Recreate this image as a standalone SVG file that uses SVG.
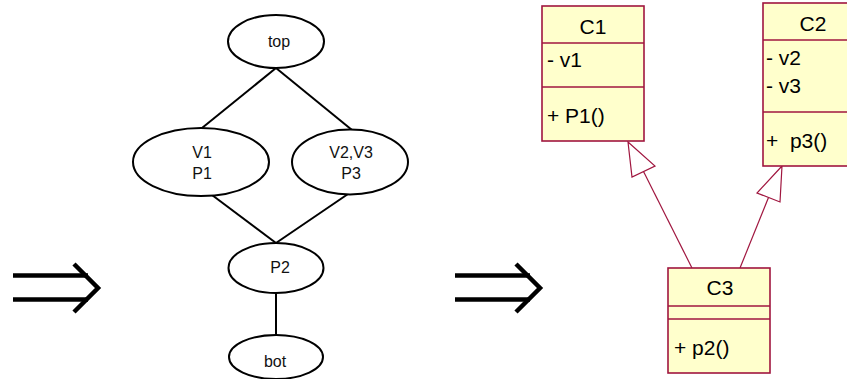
<svg xmlns="http://www.w3.org/2000/svg" width="847" height="379" viewBox="0 0 847 379">
  <style>
    .node ellipse { fill: #ffffff; stroke: #000000; stroke-width: 2; }
    .edge { stroke: #000000; stroke-width: 2; fill: none; }
    .lbl { font-family: "Liberation Sans", Arial, sans-serif; font-size: 16px; fill: #111111; text-anchor: middle; }
    .implies { stroke: #000000; stroke-width: 4.5; fill: none; }
    .cls rect, .cls line { stroke: #a0163f; stroke-width: 1.6; }
    .cls rect { fill: #ffffcc; }
    .ctitle { font-family: "Liberation Sans", Arial, sans-serif; font-size: 21px; fill: #000000; text-anchor: middle; }
    .cmem { font-family: "Liberation Sans", Arial, sans-serif; font-size: 21px; fill: #000000; }
    .gen { stroke: #a0163f; stroke-width: 1.2; fill: none; }
    .genhead { stroke: #a0163f; stroke-width: 1.2; fill: #ffffff; }
  </style>

  <!-- implication arrows -->
  <g id="implies-1">
    <line class="implies" x1="13" y1="275.5" x2="88" y2="275.5"/>
    <line class="implies" x1="13" y1="299.5" x2="88" y2="299.5"/>
    <polyline class="implies" points="74,264 98,288 74,312"/>
  </g>
  <g id="implies-2">
    <line class="implies" x1="455" y1="275.5" x2="530" y2="275.5"/>
    <line class="implies" x1="455" y1="299.5" x2="530" y2="299.5"/>
    <polyline class="implies" points="516,264 540,288 516,312"/>
  </g>

  <!-- lattice edges -->
  <g id="lattice-edges">
    <line class="edge" x1="276" y1="68" x2="202" y2="128"/>
    <line class="edge" x1="276" y1="68" x2="352" y2="130"/>
    <line class="edge" x1="212" y1="195" x2="276" y2="243"/>
    <line class="edge" x1="348" y1="194" x2="276" y2="243"/>
    <line class="edge" x1="276" y1="293" x2="276" y2="335"/>
  </g>

  <!-- lattice nodes -->
  <g id="n-top" class="node">
    <ellipse cx="276" cy="41.5" rx="48" ry="26.5"/>
    <text class="lbl" x="279" y="47">top</text>
  </g>
  <g id="n-v1p1" class="node">
    <ellipse cx="201" cy="162" rx="68" ry="34"/>
    <text class="lbl" x="202" y="158">V1</text>
    <text class="lbl" x="202" y="179">P1</text>
  </g>
  <g id="n-v2v3p3" class="node">
    <ellipse cx="350" cy="162" rx="58" ry="32.5"/>
    <text class="lbl" x="351" y="158">V2,V3</text>
    <text class="lbl" x="351" y="179">P3</text>
  </g>
  <g id="n-p2" class="node">
    <ellipse cx="276" cy="268" rx="47.5" ry="25"/>
    <text class="lbl" x="280" y="273">P2</text>
  </g>
  <g id="n-bot" class="node">
    <ellipse cx="276" cy="357" rx="47" ry="22"/>
    <text class="lbl" x="275" y="367">bot</text>
  </g>

  <!-- generalisation connectors -->
  <g id="generalisations">
    <line class="gen" x1="692" y1="268" x2="643.5" y2="171.5"/>
    <polygon class="genhead" points="628,142 655,166 632,177"/>
    <line class="gen" x1="740" y1="268" x2="768.5" y2="197.5"/>
    <polygon class="genhead" points="782,166 757,193 780,202"/>
  </g>

  <!-- classes -->
  <g id="c1" class="cls">
    <rect x="542" y="6" width="102" height="135"/>
    <line x1="542" y1="43" x2="644" y2="43"/>
    <line x1="542" y1="87" x2="644" y2="87"/>
    <text class="ctitle" x="593" y="34">C1</text>
    <text class="cmem" x="547" y="67">- v1</text>
    <text class="cmem" x="547" y="123">+ P1()</text>
  </g>
  <g id="c2" class="cls">
    <rect x="763" y="3" width="100" height="163"/>
    <line x1="763" y1="40" x2="863" y2="40"/>
    <line x1="763" y1="112" x2="863" y2="112"/>
    <text class="ctitle" x="813" y="31">C2</text>
    <text class="cmem" x="766" y="65">- v2</text>
    <text class="cmem" x="766" y="93">- v3</text>
    <text class="cmem" x="766" y="148" xml:space="preserve">+  p3()</text>
  </g>
  <g id="c3" class="cls">
    <rect x="668" y="268" width="102" height="105"/>
    <line x1="668" y1="306" x2="770" y2="306"/>
    <line x1="668" y1="319" x2="770" y2="319"/>
    <text class="ctitle" x="720" y="295">C3</text>
    <text class="cmem" x="674" y="355">+ p2()</text>
  </g>
</svg>
